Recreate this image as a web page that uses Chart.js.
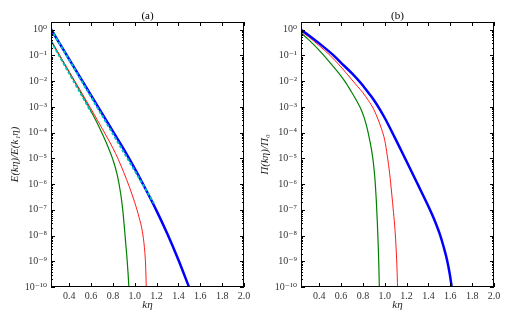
<!DOCTYPE html>
<html>
<head>
<meta charset="utf-8">
<script src="https://cdn.jsdelivr.net/npm/chart.js@4.4.0/dist/chart.umd.min.js"></script>
<style>
  html, body { margin: 0; padding: 0; background: #fff; }
  #wrap { position: relative; width: 512px; height: 320px; }
  canvas { position: absolute; top: 0; }
  #chartA { left: 0; }
  #chartB { left: 256px; }
</style>
</head>
<body>
<div id="wrap">
  <canvas id="chartA" width="256" height="320"></canvas>
  <canvas id="chartB" width="256" height="320"></canvas>
</div>
<script>
// axis ticks
var xTicks = [0.4, 0.6, 0.8, 1.0, 1.2, 1.4, 1.6, 1.8, 2.0];
var xTickLabels = ['0.4', '0.6', '0.8', '1.0', '1.2', '1.4', '1.6', '1.8', '2.0'];
var yTicks = [1e-10, 1e-9, 1e-8, 1e-7, 1e-6, 1e-5, 1e-4, 1e-3, 1e-2, 1e-1, 1e0];
var yTickLabels = ['10⁻¹⁰', '10⁻⁹', '10⁻⁸', '10⁻⁷', '10⁻⁶', '10⁻⁵', '10⁻⁴', '10⁻³', '10⁻²', '10⁻¹', '10⁰'];
var yMinor = [2, 3, 4, 5, 6, 7, 8, 9];

// panel (a): E(k eta)/E(k1 eta)
var aBlueK = [0.233, 0.3, 0.4, 0.5, 0.6, 0.7, 0.8, 0.9, 1.0, 1.1, 1.2, 1.3, 1.4, 1.496];
var aBlueV = [1.05, 3.55e-1, 7.1e-2, 1.41e-2, 2.82e-3, 5.6e-4, 1.12e-4, 2.24e-5, 4.0e-6, 6.3e-7, 9.1e-8, 1.12e-8, 1.12e-9, 1e-10];
var aRedK = [0.233, 0.3, 0.4, 0.5, 0.6, 0.7, 0.8, 0.85, 0.9, 0.95, 1.0, 1.04, 1.07, 1.088, 1.097, 1.102, 1.105];
var aRedV = [3.98e-1, 1.26e-1, 2.34e-2, 4.47e-3, 8.3e-4, 1.48e-4, 2.5e-5, 8.9e-6, 2.8e-6, 7.9e-7, 1.9e-7, 5.0e-8, 1.4e-8, 3.5e-9, 1.1e-9, 3.2e-10, 1e-10];
var aGreenK = [0.233, 0.3, 0.4, 0.5, 0.6, 0.65, 0.7, 0.75, 0.8, 0.84, 0.87, 0.89, 0.905, 0.918, 0.93, 0.939, 0.946];
var aGreenV = [3.8e-1, 1.2e-1, 2.19e-2, 3.98e-3, 6.8e-4, 2.63e-4, 9.5e-5, 3.16e-5, 8.9e-6, 2.24e-6, 4.5e-7, 1e-7, 2.0e-8, 4.5e-9, 1.12e-9, 3.2e-10, 1e-10];
var aFit1K = [0.233, 1.175];
var aFit1V = [1.05, 1.8e-7];
var aFit2K = [0.233, 0.6];
var aFit2V = [3.55e-1, 6.3e-4];

// panel (b): Pi(k eta)/Pi_0
var bBlueK = [0.233, 0.3, 0.4, 0.5, 0.55, 0.6, 0.7, 0.78, 0.85, 0.9, 0.96, 1.0, 1.05, 1.1, 1.2, 1.3, 1.4, 1.45, 1.5, 1.54, 1.57, 1.595, 1.613];
var bBlueV = [1.0, 6.3e-1, 2.95e-1, 1.32e-1, 8.5e-2, 5.2e-2, 2.0e-2, 8.5e-3, 3.55e-3, 1.86e-3, 7.4e-4, 3.7e-4, 1.45e-4, 5.5e-5, 7.6e-6, 1.02e-6, 1.35e-7, 4.5e-8, 1.26e-8, 3.5e-9, 1.12e-9, 3.2e-10, 1e-10];
var bRedK = [0.233, 0.3, 0.4, 0.5, 0.6, 0.7, 0.75, 0.8, 0.85, 0.9, 0.94, 0.97, 1.0, 1.023, 1.045, 1.063, 1.08, 1.094, 1.105, 1.112, 1.117];
var bRedV = [8.7e-1, 5.4e-1, 2.4e-1, 1e-1, 3.55e-2, 1.12e-2, 6.3e-3, 3.55e-3, 1.78e-3, 7.9e-4, 3.16e-4, 1.41e-4, 5.0e-5, 1.26e-5, 2.5e-6, 4.5e-7, 7.9e-8, 1.58e-8, 2.5e-9, 5.0e-10, 1e-10];
var bGreenK = [0.233, 0.3, 0.4, 0.5, 0.6, 0.65, 0.7, 0.75, 0.78, 0.81, 0.84, 0.86, 0.88, 0.895, 0.91, 0.922, 0.932, 0.94, 0.946, 0.95];
var bGreenV = [7.6e-1, 4.2e-1, 1.58e-1, 5.2e-2, 1.58e-2, 7.9e-3, 3.55e-3, 1.51e-3, 8.5e-4, 4.0e-4, 1.41e-4, 5.6e-5, 2.0e-5, 7.1e-6, 1.58e-6, 2.5e-7, 3.16e-8, 4.0e-9, 6.3e-10, 1e-10];

var serif = "'Liberation Serif', 'DejaVu Serif', serif";

function pts(k, v) {
  return k.map(function (x, i) { return { x: x, y: v[i] }; });
}

function line(k, v, color, width, order, dash) {
  return {
    data: pts(k, v),
    borderColor: color,
    borderWidth: width,
    borderDash: dash || [],
    pointRadius: 0,
    fill: false,
    cubicInterpolationMode: 'monotone',
    order: order
  };
}

// matplotlib-like frame with inward ticks on all four sides
var frameTicks = {
  id: 'frameTicks',
  afterDraw: function (chart) {
    var ctx = chart.ctx, a = chart.chartArea;
    var xs = chart.scales.x, ys = chart.scales.y;
    ctx.save();
    ctx.strokeStyle = '#000';
    ctx.lineWidth = 1;
    ctx.strokeRect(a.left + 0.5, a.top + 0.5, a.right - a.left - 1, a.bottom - a.top - 1);
    ctx.beginPath();
    xs.ticks.forEach(function (t) {
      var px = Math.round(xs.getPixelForValue(t.value)) + 0.5;
      ctx.moveTo(px, a.bottom); ctx.lineTo(px, a.bottom - 4);
      ctx.moveTo(px, a.top); ctx.lineTo(px, a.top + 4);
    });
    ys.ticks.forEach(function (t) {
      if (t.value < ys.min || t.value > ys.max) return;
      var py = Math.round(ys.getPixelForValue(t.value)) + 0.5;
      var len = t.label ? 4 : 2;
      ctx.moveTo(a.left, py); ctx.lineTo(a.left + len, py);
      ctx.moveTo(a.right, py); ctx.lineTo(a.right - len, py);
    });
    ctx.stroke();
    ctx.restore();
  }
};

function makeChart(id, title, yTitle, datasets, lay) {
  return new Chart(id, {
    type: 'line',
    data: { datasets: datasets },
    options: {
      responsive: false,
      animation: false,
      devicePixelRatio: 1,
      layout: { padding: { left: 0, right: lay.right, top: 0, bottom: 0 } },
      plugins: {
        legend: { display: false },
        tooltip: { enabled: false },
        title: {
          display: true, text: title, fullSize: false, color: '#000',
          font: { family: serif, size: 11, weight: 'normal', lineHeight: 1 },
          padding: { top: 11, bottom: 0 }
        }
      },
      scales: {
        x: {
          type: 'linear', min: 0.233, max: 2.0,
          grid: { display: false, drawTicks: false },
          border: { display: false },
          afterBuildTicks: function (s) {
            s.ticks = xTicks.map(function (v) { return { value: v }; });
          },
          afterFit: function (s) {
            s.height = 33; s.paddingLeft = 0; s.paddingRight = 0;
          },
          ticks: {
            autoSkip: false, maxRotation: 0, padding: 3, color: '#333',
            font: { family: serif, size: 10 },
            callback: function (v) {
              var i = xTicks.indexOf(v);
              return i >= 0 ? xTickLabels[i] : '';
            }
          },
          title: {
            display: true, text: 'kη', color: '#222',
            font: { family: serif, size: 11, style: 'italic' },
            padding: { top: 0, bottom: 8.4 }
          }
        },
        y: {
          type: 'logarithmic', min: 1e-10, max: 2,
          grid: { display: false, drawTicks: false },
          border: { display: false },
          afterBuildTicks: function (s) {
            var t = [];
            yTicks.forEach(function (d) {
              t.push({ value: d, major: true });
              yMinor.forEach(function (m) {
                if (m * d <= 2) t.push({ value: m * d });
              });
            });
            s.ticks = t;
          },
          afterFit: function (s) {
            s.width = lay.yWidth; s.paddingTop = 0; s.paddingBottom = 0;
          },
          ticks: {
            autoSkip: false, padding: 4, color: '#333',
            font: { family: serif, size: 10 },
            callback: function (v) {
              for (var i = 0; i < yTicks.length; i++) {
                if (Math.abs(v / yTicks[i] - 1) < 1e-6) return yTickLabels[i];
              }
              return '';
            }
          },
          title: {
            display: true, text: yTitle, color: '#222',
            font: { family: serif, size: 11, style: 'italic' },
            padding: { top: lay.yTitlePad, bottom: 0 }
          }
        }
      }
    },
    plugins: [frameTicks]
  });
}

makeChart('chartA', '(a)', 'E(kη)/E(k₁η)', [
  line(aFit1K, aFit1V, '#00bfbf', 2, 0, [3, 2]),
  line(aFit2K, aFit2V, '#00bfbf', 2, 0, [3, 2]),
  line(aBlueK, aBlueV, '#0000ff', 2.5, 1),
  line(aRedK, aRedV, '#ff0000', 0.9, 2),
  line(aGreenK, aGreenV, '#008000', 1.2, 3)
], { right: 12, yWidth: 51, yTitlePad: 8.4 });

makeChart('chartB', '(b)', 'Π(kη)/Π₀', [
  line(bBlueK, bBlueV, '#0000ff', 2.5, 1),
  line(bRedK, bRedV, '#ff0000', 0.9, 2),
  line(bGreenK, bGreenV, '#008000', 1.2, 3)
], { right: 18, yWidth: 45, yTitlePad: 2.4 });
</script>
</body>
</html>
